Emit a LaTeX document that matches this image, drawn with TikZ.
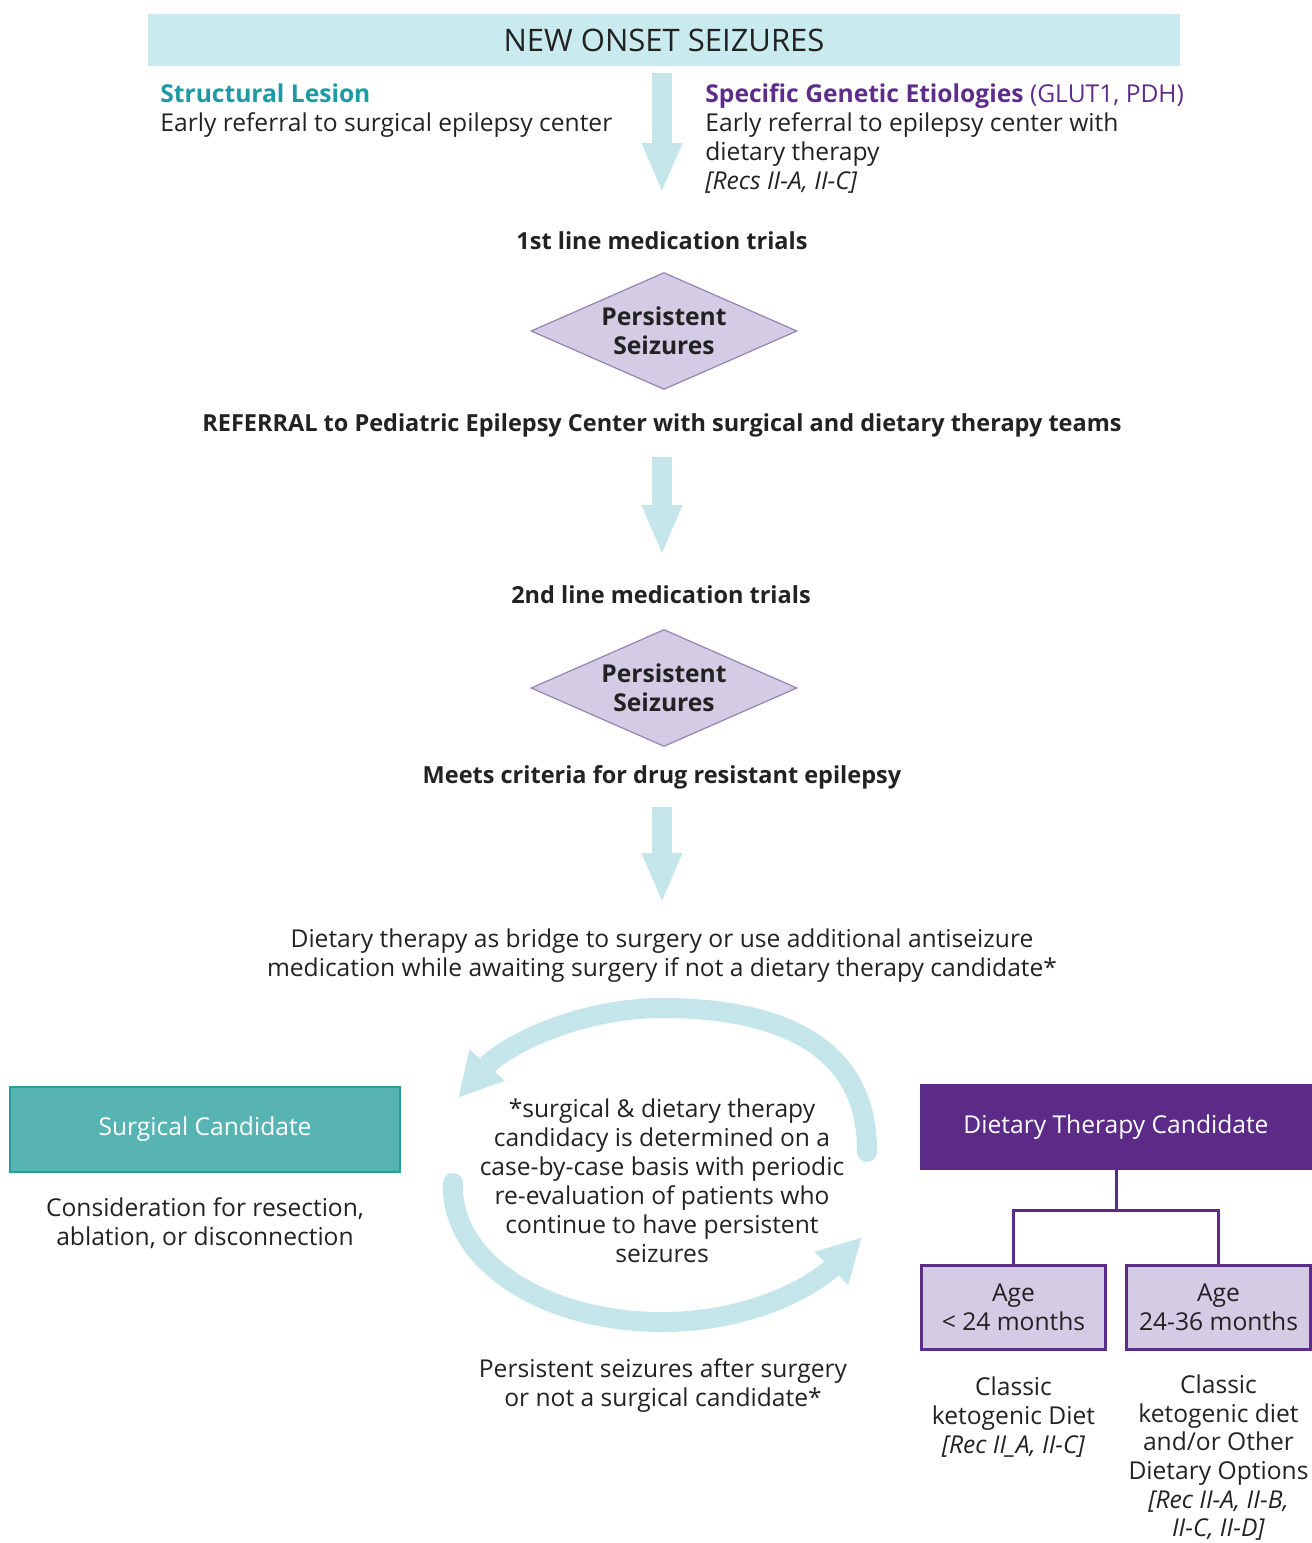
\documentclass[tikz,border=0pt]{standalone}
\usepackage{fontspec}
\setmainfont{Open Sans}
\usetikzlibrary{arrows.meta,shapes.geometric,positioning}

\definecolor{bannercyan}{RGB}{201,235,239}
\definecolor{arrowcyan}{RGB}{196,230,235}
\definecolor{lesionteal}{RGB}{30,154,162}
\definecolor{genepurple}{RGB}{94,45,138}
\definecolor{lilac}{RGB}{212,203,228}
\definecolor{lilacline}{RGB}{146,132,180}
\definecolor{surgteal}{RGB}{87,180,178}
\definecolor{surgline}{RGB}{42,156,158}
\definecolor{dietpurple}{RGB}{92,42,135}
\definecolor{textdark}{RGB}{34,34,34}

\newcommand{\bodyfont}{\fontsize{12.3pt}{14.5pt}\selectfont}

\begin{document}
\begin{tikzpicture}[
      x=0.5pt, y=-0.5pt,
      level distance=90pt,
      sibling distance=102.5pt,
      every node/.style={font=\bodyfont, text=textdark, inner sep=0pt, align=center},
      heading/.style={font=\fontsize{11.75pt}{14.5pt}\selectfont\bfseries},
      decision/.style={diamond, aspect=2.27, minimum width=133pt, minimum height=58.5pt,
        fill=lilac, draw=lilacline, line width=0.6pt, font=\bodyfont\bfseries},
      surgbox/.style={rectangle, fill=surgteal, draw=surgline, line width=1.2pt,
        minimum width=195pt, minimum height=42.5pt, text=white},
      dietbox/.style={rectangle, fill=dietpurple, minimum width=196pt, minimum height=43pt, text=white},
      agebox/.style={rectangle, fill=lilac, draw=dietpurple, line width=1.5pt,
        minimum width=92pt, minimum height=42pt, text=textdark},
      bigarrow/.style={draw=arrowcyan, line width=10pt, -{Triangle[width=18.5pt,length=25pt]}},
      cyclearrow/.style={draw=arrowcyan, line width=10pt, line cap=round, -{Triangle[width=22pt,length=22pt]}},
      edge from parent/.style={draw=dietpurple, line width=1.5pt},
      edge from parent path={(\tikzparentnode.south) -- +(0pt,-20pt) -| (\tikzchildnode.north)},
    ]
      \useasboundingbox (0,0) rectangle (1312,1543);

      % top of the chart
      \node[fill=bannercyan, minimum width=516pt, minimum height=26pt,
        font=\fontsize{15.5pt}{18pt}\selectfont] (onset) at (664,40) {NEW ONSET SEIZURES};
      \node[anchor=west, align=left] (lesion) at (160,110.5)
        {\textcolor{lesionteal}{\bfseries Structural Lesion}\\
         Early referral to surgical epilepsy center};
      \node[anchor=west, align=left] (genetic) at (705,138.5)
        {\textcolor{genepurple}{\bfseries Specific Genetic Etiologies} \textcolor{genepurple}{(GLUT1, PDH)}\\
         Early referral to epilepsy center with\\
         dietary therapy\\
         \textit{[Recs II-A, II-C]}};

      % medication trials
      \node[heading] (firstline) at (662,241) {1st line medication trials};
      \node[decision] (persist1) at (664,331) {Persistent\\Seizures};
      \node[heading] (referral) at (662,425)
        {REFERRAL to Pediatric Epilepsy Center with surgical and dietary therapy teams};
      \node[heading] (secondline) at (661,595) {2nd line medication trials};
      \node[decision] (persist2) at (664,688) {Persistent\\Seizures};
      \node[heading] (criteria) at (662,777) {Meets criteria for drug resistant epilepsy};
      \node (bridge) at (662,956)
        {Dietary therapy as bridge to surgery or use additional antiseizure\\
         medication while awaiting surgery if not a dietary therapy candidate*};

      \coordinate (arrow1top) at (662,73);
      \coordinate (arrow1tip) at (662,193);
      \coordinate (arrow2top) at (662,457);
      \coordinate (arrow2tip) at (662,555);
      \coordinate (arrow3top) at (662,807);
      \coordinate (arrow3tip) at (662,903);
      \draw[bigarrow] (arrow1top) -- (arrow1tip);
      \draw[bigarrow] (arrow2top) -- (arrow2tip);
      \draw[bigarrow] (arrow3top) -- (arrow3tip);

      % candidacy loop
      \node (cycle) at (662,1180.5)
        {*surgical \& dietary therapy\\
         candidacy is determined on a\\
         case-by-case basis with periodic\\
         re-evaluation of patients who\\
         continue to have persistent\\
         seizures};
      \coordinate (loopright) at (867,1152);
      \coordinate (lefttip) at (458,1098);
      \coordinate (loopleft) at (453,1183);
      \coordinate (righttip) at (862,1237);
      \draw[cyclearrow] (loopright) .. controls (868,1040) and (770,1008) .. (662,1008)
        .. controls (580,1008) and (505,1045) .. (lefttip);
      \draw[cyclearrow] (loopleft) .. controls (450,1262) and (545,1322) .. (662,1322)
        .. controls (752,1322) and (815,1285) .. (righttip);
      \node (aftersurg) at (663,1385.5)
        {Persistent seizures after surgery\\or not a surgical candidate*};

      % surgical side
      \node[surgbox] (surgical) at (205,1129.5) {Surgical Candidate};
      \node[below=12pt of surgical] (consider)
        {Consideration for resection,\\ablation, or disconnection};

      % dietary side
      \node[dietbox] (dietary) at (1116,1127) {Dietary Therapy Candidate}
        child {node[agebox] (young) {Age\\< 24 months}}
        child {node[agebox] (older) {Age\\24-36 months}};
      \node[below=13pt of young] (classic)
        {Classic\\ketogenic Diet\\\textit{[Rec II\_A, II-C]}};
      \node[below=12pt of older, font=\fontsize{12.3pt}{14.3pt}\selectfont] (options)
        {Classic\\ketogenic diet\\and/or Other\\Dietary Options\\
         \textit{[Rec II-A, II-B,}\\\textit{II-C, II-D]}};
    \end{tikzpicture}
\end{document}
